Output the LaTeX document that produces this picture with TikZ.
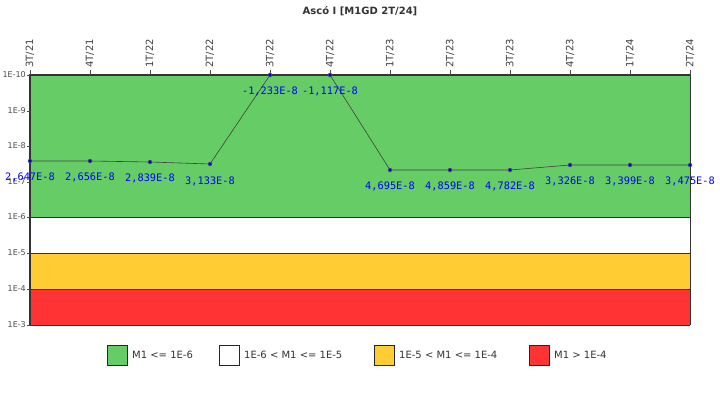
\documentclass[tikz,border=0pt]{standalone}
\usepackage{fontspec}
\setmainfont{DejaVu Sans}
\newfontfamily\monofnt{DejaVu Sans Mono}
\definecolor{cgreen}{RGB}{102,204,102}
\definecolor{cyellow}{RGB}{255,204,51}
\definecolor{cred}{RGB}{255,51,51}
\begin{document}
\begin{tikzpicture}[x=1pt,y=-1pt,
  band/.style={draw=black!80,line width=0.7pt},
  ylab/.style={anchor=east,font=\fontsize{8}{9}\selectfont,text=black!70,inner sep=1pt},
  xlab/.style={anchor=west,rotate=90,font=\fontsize{10}{11}\selectfont,text=black!75,inner sep=0pt},
  dlab/.style={font=\monofnt\fontsize{10.3}{11}\selectfont,text=blue,inner sep=0pt},
  pt/.style={circle,fill=blue!80!black,draw=black!60,inner sep=0pt,minimum size=4pt},
  lbox/.style={draw=black!85,line width=0.8pt,minimum size=20pt,inner sep=0pt},
  ltxt/.style={anchor=west,font=\fontsize{10}{11}\selectfont,text=black!80,inner sep=0pt}]
\useasboundingbox (0,0) rectangle (720,400);
\fill[white] (0,0) rectangle (720,400);
\node[font=\bfseries\fontsize{10}{11}\selectfont,text=black!80] (title) at (360,11) {Ascó I [M1GD 2T/24]};
\fill[cgreen] (30,75) rectangle (690,217);
\fill[white] (30,217) rectangle (690,253);
\fill[cyellow] (30,253) rectangle (690,289);
\fill[cred] (30,289) rectangle (690,325);
\draw[band] (30,217) -- (690,217) (30,253) -- (690,253) (30,289) -- (690,289) (30,325) -- (690,325);
\draw[black!80,line width=0.7pt] (690,75) -- (690,325);
\draw[black!80,line width=1.5pt] (30,75) -- (690,75) (30,74) -- (30,326);
\foreach \v/\y in {10/75,9/111,8/146,7/182,6/217,5/253,4/289,3/325}{
  \draw[black!70] (27,\y) -- (30,\y);
  \node[ylab] at (27,\y) {1E-\v};}
\foreach \t [count=\i from 0] in {3T/21,4T/21,1T/22,2T/22,3T/22,4T/22,1T/23,2T/23,3T/23,4T/23,1T/24,2T/24}{
  \draw[black!70] (30+60*\i,70) -- (30+60*\i,75);
  \node[xlab] at (30+60*\i,68) {\t};}
\foreach \y [count=\i from 0] in {161,161,162,164,75,75,170,170,170,165,165,165}{
  \node[pt] (p\i) at (30+60*\i,\y) {};}
\draw[black!75,line width=0.6pt] (p0)--(p1)--(p2)--(p3)--(p4)--(p5)--(p6)--(p7)--(p8)--(p9)--(p10)--(p11);
\foreach \l/\y [count=\i from 0] in {{2,647E-8}/177,{2,656E-8}/177,{2,839E-8}/178,{3,133E-8}/181,{-1,233E-8}/91,{-1,117E-8}/91,{4,695E-8}/186,{4,859E-8}/186,{4,782E-8}/186,{3,326E-8}/181,{3,399E-8}/181,{3,475E-8}/181}{
  \node[dlab] (d\i) at (30+60*\i,\y) {\l};}
\node[lbox,fill=cgreen] (g) at (117,355) {};
\node[ltxt] (gt) at (132,355) {M1 <= 1E-6};
\node[lbox,fill=white] (w) at (229,355) {};
\node[ltxt] (wt) at (244,355) {1E-6 < M1 <= 1E-5};
\node[lbox,fill=cyellow] (yy) at (384,355) {};
\node[ltxt] (yt) at (399,355) {1E-5 < M1 <= 1E-4};
\node[lbox,fill=cred] (r) at (539,355) {};
\node[ltxt] (rt) at (554,355) {M1 > 1E-4};
\end{tikzpicture}
\end{document}
